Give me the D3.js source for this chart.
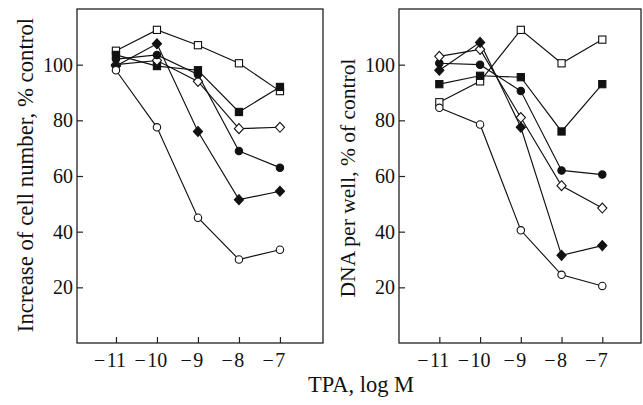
<!DOCTYPE html>
<head>
<meta charset="UTF-8">
<script src="https://d3js.org/d3.v7.min.js"></script>
<style>
  body { margin: 0; background: #fff; }
  text { font-family: "Liberation Serif", "Times New Roman", serif; fill: #111; }
</style>
</head>
<body>
<svg></svg>
<script>

// TPA dose, log M
var logDose = [-11, -10, -9, -8, -7];
var xTicks = [-11, -10, -9, -8, -7];
var yTicks = [20, 40, 60, 80, 100];

// left panel: increase of cell number, % control
var cellOpenSquare    = [105, 112.5, 107, 100.5, 90.5];
var cellFilledSquare  = [103.5, 99.5, 98, 83, 92];
var cellOpenDiamond   = [100, 101.5, 94, 77, 77.5];
var cellFilledCircle  = [102, 103.5, 96.5, 69, 63];
var cellFilledDiamond = [99.5, 107.5, 76, 51.5, 54.5];
var cellOpenCircle    = [98, 77.5, 45, 30, 33.5];

// right panel: DNA per well, % of control
var dnaOpenSquare    = [86.5, 94, 112.5, 100.5, 109];
var dnaFilledSquare  = [93, 96, 95.5, 76, 93];
var dnaFilledCircle  = [100.5, 100, 90.5, 62, 60.5];
var dnaOpenDiamond   = [103, 105.5, 81, 56.5, 48.5];
var dnaFilledDiamond = [98, 108, 77.5, 31.5, 35];
var dnaOpenCircle    = [84.5, 78.5, 40.5, 24.5, 20.5];

var width = 643, height = 405;

var svg = d3.select("svg").attr("width", width).attr("height", height);

var y = d3.scaleLinear().domain([0, 120]).range([343, 9]);

function marker(g, type, filled) {
  var fill = filled ? "#111" : "#fff";
  if (type == "square") {
    g.append("rect").attr("x", -3.6).attr("y", -3.6).attr("width", 7.2).attr("height", 7.2)
      .attr("fill", fill).attr("stroke", "#111").attr("stroke-width", 1.1);
  } else if (type == "circle") {
    g.append("circle").attr("r", 3.7)
      .attr("fill", fill).attr("stroke", "#111").attr("stroke-width", 1.1);
  } else {
    g.append("path").attr("d", "M0,-5L4.6,0L0,5L-4.6,0Z")
      .attr("fill", fill).attr("stroke", "#111").attr("stroke-width", 1.1);
  }
}

function panel(left, right, domain, series, label, labelX, labelY, labelSize) {
  var x = d3.scaleLinear().domain(domain).range([left, right]);
  var g = svg.append("g");

  // frame
  g.append("rect").attr("x", left).attr("y", y(120)).attr("width", right - left).attr("height", y(0) - y(120))
    .attr("fill", "none").attr("stroke", "#222").attr("stroke-width", 1.3);

  // inward ticks, minus sign hangs left of the digits
  g.append("g").attr("transform", "translate(0," + y(0) + ")")
    .call(d3.axisBottom(x).tickValues(xTicks).tickSize(-6).tickFormat(""))
    .call(function (a) {
      a.select(".domain").remove();
      a.selectAll("line").attr("stroke", "#222").attr("stroke-width", 1.2);
      a.selectAll(".tick text").each(function (d) {
        var t = d3.select(this).attr("dy", 0).attr("y", 24).attr("x", -6.5)
          .attr("font-family", null).attr("font-size", null)
          .style("font-size", "20px").attr("fill", "#111").text("\u2212");
        t.append("tspan").attr("dx", 1.5).text(Math.abs(d));
      });
    });

  g.append("g").attr("transform", "translate(" + left + ",0)")
    .call(d3.axisLeft(y).tickValues(yTicks).tickSize(-6).tickPadding(4))
    .call(function (a) {
      a.select(".domain").remove();
      a.selectAll("line").attr("stroke", "#222").attr("stroke-width", 1.2);
      a.selectAll("text").attr("font-family", null).style("font-size", "20px").attr("fill", "#111");
    });
  g.selectAll("g").attr("font-family", null).attr("font-size", null);

  g.append("text")
    .attr("transform", "translate(" + labelX + "," + labelY + ") rotate(-90)")
    .attr("text-anchor", "middle")
    .style("font-size", labelSize + "px")
    .text(label);

  var line = d3.line().x(function (d, i) { return x(logDose[i]); }).y(function (d) { return y(d); });

  series.forEach(function (s) {
    g.append("path").attr("d", line(s.values)).attr("fill", "none")
      .attr("stroke", "#111").attr("stroke-width", 1.15);
  });
  series.forEach(function (s) {
    s.values.forEach(function (v, i) {
      var m = g.append("g").attr("transform", "translate(" + x(logDose[i]) + "," + y(v) + ")");
      marker(m, s.shape, s.filled);
    });
  });
}

panel(77, 323, [-11.95, -5.95], [
  { values: cellOpenSquare, shape: "square", filled: false },
  { values: cellFilledSquare, shape: "square", filled: true },
  { values: cellOpenDiamond, shape: "diamond", filled: false },
  { values: cellFilledCircle, shape: "circle", filled: true },
  { values: cellFilledDiamond, shape: "diamond", filled: true },
  { values: cellOpenCircle, shape: "circle", filled: false }
], "Increase of cell number, % control", 33, 175, 22.8);

panel(399, 641, [-11.99, -6.05], [
  { values: dnaOpenSquare, shape: "square", filled: false },
  { values: dnaFilledSquare, shape: "square", filled: true },
  { values: dnaFilledCircle, shape: "circle", filled: true },
  { values: dnaOpenDiamond, shape: "diamond", filled: false },
  { values: dnaFilledDiamond, shape: "diamond", filled: true },
  { values: dnaOpenCircle, shape: "circle", filled: false }
], "DNA per well, % of control", 355, 178, 21.5);

svg.append("text").attr("x", 361).attr("y", 392).attr("text-anchor", "middle")
  .style("font-size", "22.5px").text("TPA, log M");

</script>
</body>
